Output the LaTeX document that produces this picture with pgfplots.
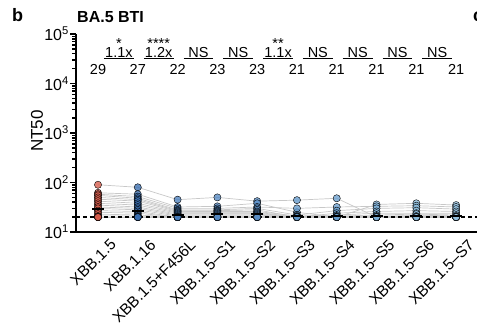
\documentclass[border=0pt]{standalone}
\usepackage{fontspec}
\setmainfont{Liberation Sans}
\usepackage{pgfplots}
\usepackage{pgfplotstable}
\pgfplotsset{compat=1.18}
\newcommand\fs[1]{\fontsize{#1}{#1}\selectfont}
\definecolor{c0}{HTML}{D65B4A}
\definecolor{c1}{HTML}{3A6EB0}
\definecolor{c2}{HTML}{4A7FBD}
\definecolor{c3}{HTML}{5589C3}
\definecolor{c4}{HTML}{5B8FC7}
\definecolor{c5}{HTML}{6399CC}
\definecolor{c6}{HTML}{6A9FCF}
\definecolor{c7}{HTML}{7FB1D9}
\definecolor{c8}{HTML}{8ABADA}
\definecolor{c9}{HTML}{95C1E0}
\definecolor{lgray}{HTML}{C8C8C8}
% rows = donors, columns = variants
\pgfplotstableread{
A B C D E F G H I J
90 80 45 50 42 44 48 20 22 21
62 58 32 33 38 25 20 36 38 35
58 52 30 30 32 30 32 33 34 32
55 48 28 28 30 22 27 30 31 29
50 45 27 27 28 20 24 26 27 26
46 42 26 26 26 21 22 24 24 24
42 38 25 25 25 20 21 22 23 22
38 35 24 24 24 20 20 21 21 21
35 32 23 23 23 20 20 20 20 20
32 30 22 22 22 20 20 20 20 20
30 28 21 21 21 20 20 20 20 20
27 26 20 20 20 20 20 20 20 20
25 24 20 20 20 20 20 20 20 20
23 22 20 20 20 20 20 20 20 20
21 21 20 20 20 20 20 20 20 20
20 20 20 20 20 20 20 20 20 20
20 20 20 20 20 20 20 20 20 20
20 20 20 20 20 20 20 20 20 20
20 20 20 20 20 20 20 20 20 20
20 20 20 20 20 20 20 20 20 20
20 20 20 20 20 20 20 20 20 20
20 20 20 20 20 20 20 20 20 20
}\nt
\pgfplotstabletranspose\ntT{\nt}
\newcommand\num[2]{\node[anchor=base, font=\fs{14.5}, inner sep=0] at (axis cs:#1,14860) {#2};}
\newcommand\brk[3]{%
  \draw[line width=0.8pt] (axis cs:#1+0.15,31920) -- (axis cs:#1+0.9,31920);
  \node[anchor=south, font=\fs{14.5}, inner sep=0, yshift=1pt] at (axis cs:#1+0.525,31920) {#2};
  \node[anchor=base, font=\fs{14.5}, inner sep=0] at (axis cs:#1+0.525,51000) {#3};}
\begin{document}
\begin{tikzpicture}
\path[use as bounding box] (0pt,0pt) rectangle (477pt,-323pt);
\node[anchor=base west, font=\fs{18}\bfseries, inner sep=0] at (12pt,-22pt) {b};
\node[anchor=base west, font=\fs{16}\bfseries, inner sep=0] at (77pt,-23pt) {BA.5 BTI};
\node[anchor=base west, font=\fs{18}\bfseries, inner sep=0] at (473pt,-22pt) {c};
\begin{axis}[
  at={(76pt,-232pt)}, anchor=south west, scale only axis,
  width=404pt, height=198pt,
  ymode=log, ymin=10, ymax=100000,
  xmin=-0.553, xmax=9.6,
  clip=false,
  axis x line*=bottom, axis y line*=left,
  axis line style={line width=2pt, black},
  xtick={0,...,9},
  xticklabels={XBB.1.5,XBB.1.16,XBB.1.5+F456L,XBB.1.5--S1,XBB.1.5--S2,XBB.1.5--S3,XBB.1.5--S4,XBB.1.5--S5,XBB.1.5--S6,XBB.1.5--S7},
  x tick style={draw=none},
  xticklabel style={rotate=45, anchor=north east, font=\fs{15.5}, inner sep=0pt, xshift=8pt, yshift=-8pt},
  ytick={10,100,1000,10000,100000},
  yticklabels={10\textsuperscript{1},10\textsuperscript{2},10\textsuperscript{3},10\textsuperscript{4},10\textsuperscript{5}},
  minor ytick={20,30,40,50,60,70,80,90,200,300,400,500,600,700,800,900,2000,3000,4000,5000,6000,7000,8000,9000,20000,30000,40000,50000,60000,70000,80000,90000},
  tick align=outside,
  y tick style={line width=1.5pt, black},
  major tick length=6pt, minor tick length=3.5pt,
  yticklabel style={font=\fs{16}, inner sep=1pt},
  ylabel={NT50},
  ylabel style={font=\fs{17}, at={(axis description cs:-0.0965,0.51)}, anchor=center},
]
\pgfplotsinvokeforeach{0,...,21}{
  \addplot[line width=0.7pt, color=lgray, forget plot] table[x expr=\coordindex, y=#1]{\ntT};
}
\addplot[black, line width=1.2pt, dash pattern=on 4pt off 3pt] coordinates {(-0.553,20) (9.6,20)};
\addplot[only marks, mark=*, mark size=3.6pt, mark options={draw=none, fill=c0, fill opacity=0.78}] table[x expr=0, y=A]{\nt};
\addplot[only marks, mark=*, mark size=3.6pt, mark options={draw=none, fill=c1, fill opacity=0.78}] table[x expr=1, y=B]{\nt};
\addplot[only marks, mark=*, mark size=3.6pt, mark options={draw=none, fill=c2, fill opacity=0.78}] table[x expr=2, y=C]{\nt};
\addplot[only marks, mark=*, mark size=3.6pt, mark options={draw=none, fill=c3, fill opacity=0.78}] table[x expr=3, y=D]{\nt};
\addplot[only marks, mark=*, mark size=3.6pt, mark options={draw=none, fill=c4, fill opacity=0.78}] table[x expr=4, y=E]{\nt};
\addplot[only marks, mark=*, mark size=3.6pt, mark options={draw=none, fill=c5, fill opacity=0.78}] table[x expr=5, y=F]{\nt};
\addplot[only marks, mark=*, mark size=3.6pt, mark options={draw=none, fill=c6, fill opacity=0.78}] table[x expr=6, y=G]{\nt};
\addplot[only marks, mark=*, mark size=3.6pt, mark options={draw=none, fill=c7, fill opacity=0.78}] table[x expr=7, y=H]{\nt};
\addplot[only marks, mark=*, mark size=3.6pt, mark options={draw=none, fill=c8, fill opacity=0.78}] table[x expr=8, y=I]{\nt};
\addplot[only marks, mark=*, mark size=3.6pt, mark options={draw=none, fill=c9, fill opacity=0.78}] table[x expr=9, y=J]{\nt};
% geometric means
\addplot[only marks, mark=-, mark size=6pt, mark options={line width=2.2pt, black}] coordinates {(0,29) (1,27) (2,22) (3,23) (4,23) (5,21) (6,21) (7,21) (8,21) (9,21)};
% annotations
\num{0}{29}\num{1}{27}\num{2}{22}\num{3}{23}\num{4}{23}
\num{5}{21}\num{6}{21}\num{7}{21}\num{8}{21}\num{9}{21}
\brk{0}{1.1x}{*}
\brk{1}{1.2x}{****}
\brk{2}{NS}{}
\brk{3}{NS}{}
\brk{4}{1.1x}{**}
\brk{5}{NS}{}
\brk{6}{NS}{}
\brk{7}{NS}{}
\brk{8}{NS}{}
\end{axis}
\end{tikzpicture}
\end{document}
